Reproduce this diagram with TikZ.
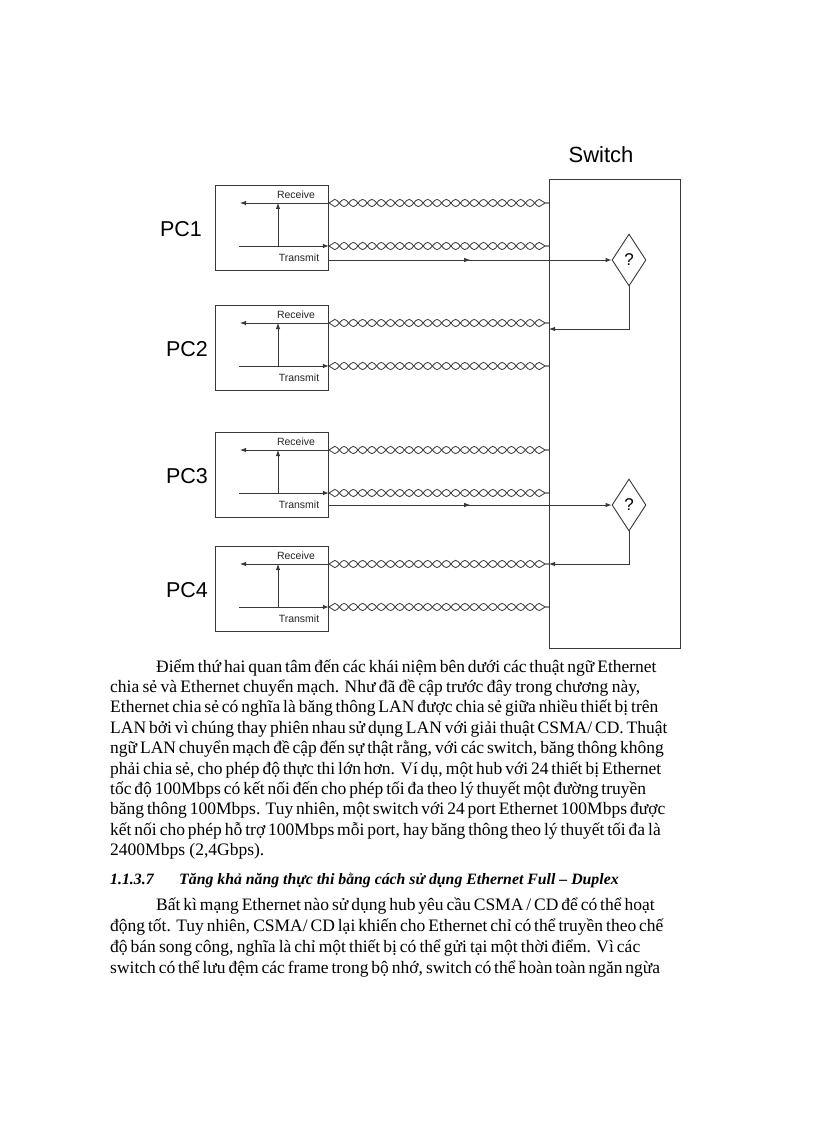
\documentclass[tikz,border=0pt]{standalone}
\usepackage{fontspec}
\setmainfont{Liberation Serif}
\newfontfamily\diagfont{Liberation Sans}
\usetikzlibrary{arrows.meta,shapes.geometric,decorations.pathmorphing,decorations.markings}

\tikzset{
  wire/.style={draw=black!78,line width=0.9pt},
  tip/.style={wire,-{Latex[length=6pt,width=4.5pt]}},
  pcbox/.style={wire,anchor=north west,minimum width=113pt,minimum height=85pt,inner sep=0pt},
  swbox/.style={wire,anchor=north west,minimum width=131pt,minimum height=469pt,inner sep=0pt},
  decide/.style={wire,diamond,minimum width=34pt,minimum height=52pt,inner sep=0pt,font=\diagfont\fontsize{17}{17}\selectfont},
  portlbl/.style={inner sep=0pt,font=\diagfont\fontsize{10.5}{12}\selectfont,text=black!85},
  pclbl/.style={inner sep=0pt,font=\diagfont\fontsize{21.5}{24}\selectfont},
  strand/.style={draw=black!75,line width=0.85pt,decorate,decoration={snake,amplitude=3.6pt,segment length=18.6pt}},
  midtip/.style={postaction={decorate,decoration={markings,mark=at position 0.5 with {\arrow{Latex[length=6pt,width=4.5pt]}}}}},
  body/.style={anchor=base west,inner sep=0pt,font=\fontsize{17.5}{20.4}\selectfont},
  head/.style={anchor=base west,inner sep=0pt,font=\fontsize{15.8}{19}\selectfont\bfseries\itshape},
}
\newcommand{\twistpair}[2]{%
  \draw[strand] (#1) -- (#2);
  \draw[strand,decoration={mirror}] (#1) -- (#2);}

\begin{document}
\begin{tikzpicture}[x=1pt,y=-1pt]
\path[use as bounding box,fill=white] (0,0) rectangle (816,1123);

% switch
\node[swbox] (sw) at (549,179) {};
\node[inner sep=0pt,font=\diagfont\fontsize{22}{26}\selectfont] (swname) at (601,155) {Switch};

% the four PCs
\foreach \n/\t/\lx in {1/185/181,2/305/187,3/432/187,4/546/187}{
  \node[pcbox] (pc\n) at (215,\t) {};
  \node[pclbl] (pcname\n) at (\lx,\t+44) {PC\n};
  \coordinate (rxin\n) at (240,\t+18);
  \coordinate (txin\n) at (239,\t+61);
  \coordinate (loop\n) at (278,\t+61);
  \draw[tip] (pc\n.east |- rxin\n) -- (rxin\n);
  \draw[tip] (txin\n) -- (pc\n.east |- txin\n);
  \draw[tip] (loop\n) -- (loop\n |- rxin\n);
  \node[portlbl] (rxname\n) at (296,\t+10) {Receive};
  \node[portlbl] (txname\n) at (299,\t+73) {Transmit};
  \twistpair{pc\n.east |- rxin\n}{sw.west |- rxin\n}
  \twistpair{pc\n.east |- txin\n}{sw.west |- txin\n}
}

% forwarding decisions
\node[decide] (d1) at (629,260) {?};
\node[decide] (d3) at (629,505) {?};
\coordinate (ret2) at (sw.west |- 0,329);
\coordinate (ret4) at (sw.west |- 0,564);
\draw[tip,midtip] (pc1.east |- d1) -- (d1.west);
\draw[tip,midtip] (pc3.east |- d3) -- (d3.west);
\draw[tip] (d1.south) |- (ret2);
\draw[tip] (d3.south) |- (ret4);

% text below the figure
\node[body] (pa1) at (156,672) {\makebox[484pt][s]{Điểm thứ hai quan tâm đến các khái niệm bên dưới các thuật ngữ Ethernet}};
\node[body] (pa2) at (110,692.4) {\makebox[530pt][s]{chia sẻ và Ethernet chuyển mạch. Như đã đề cập trước đây trong chương này,}};
\node[body] (pa3) at (110,712.8) {\makebox[530pt][s]{Ethernet chia sẻ có nghĩa là băng thông LAN được chia sẻ giữa nhiều thiết bị trên}};
\node[body] (pa4) at (110,733.2) {\makebox[530pt][s]{LAN bởi vì chúng thay phiên nhau sử dụng LAN với giải thuật CSMA/ CD. Thuật}};
\node[body] (pa5) at (110,753.6) {\makebox[530pt][s]{ngữ LAN chuyển mạch đề cập đến sự thật rằng, với các switch, băng thông không}};
\node[body] (pa6) at (110,774) {\makebox[530pt][s]{phải chia sẻ, cho phép độ thực thi lớn hơn. Ví dụ, một hub với 24 thiết bị Ethernet}};
\node[body] (pa7) at (110,794.4) {\makebox[530pt][s]{tốc độ 100Mbps có kết nối đến cho phép tối đa theo lý thuyết một đường truyền}};
\node[body] (pa8) at (110,814.8) {\makebox[530pt][s]{băng thông 100Mbps. Tuy nhiên, một switch với 24 port Ethernet 100Mbps được}};
\node[body] (pa9) at (110,835.2) {\makebox[530pt][s]{kết nối cho phép hỗ trợ 100Mbps mỗi port, hay băng thông theo lý thuyết tối đa là}};
\node[body] (pa10) at (110,855.6) {2400Mbps (2,4Gbps).};

\node[head] (hnum) at (110,884) {1.1.3.7};
\node[head] (htitle) at (179,884) {Tăng khả năng thực thi bằng cách sử dụng Ethernet Full – Duplex};

\node[body] (pb1) at (156,910) {\makebox[484pt][s]{Bất kì mạng Ethernet nào sử dụng hub yêu cầu CSMA / CD để có thể hoạt}};
\node[body] (pb2) at (110,931) {\makebox[530pt][s]{động tốt. Tuy nhiên, CSMA/ CD lại khiến cho Ethernet chỉ có thể truyền theo chế}};
\node[body] (pb3) at (110,952) {\makebox[530pt][s]{độ bán song công, nghĩa là chỉ một thiết bị có thể gửi tại một thời điểm. Vì các}};
\node[body] (pb4) at (110,973) {\makebox[530pt][s]{switch có thể lưu đệm các frame trong bộ nhớ, switch có thể hoàn toàn ngăn ngừa}};
\end{tikzpicture}
\end{document}
